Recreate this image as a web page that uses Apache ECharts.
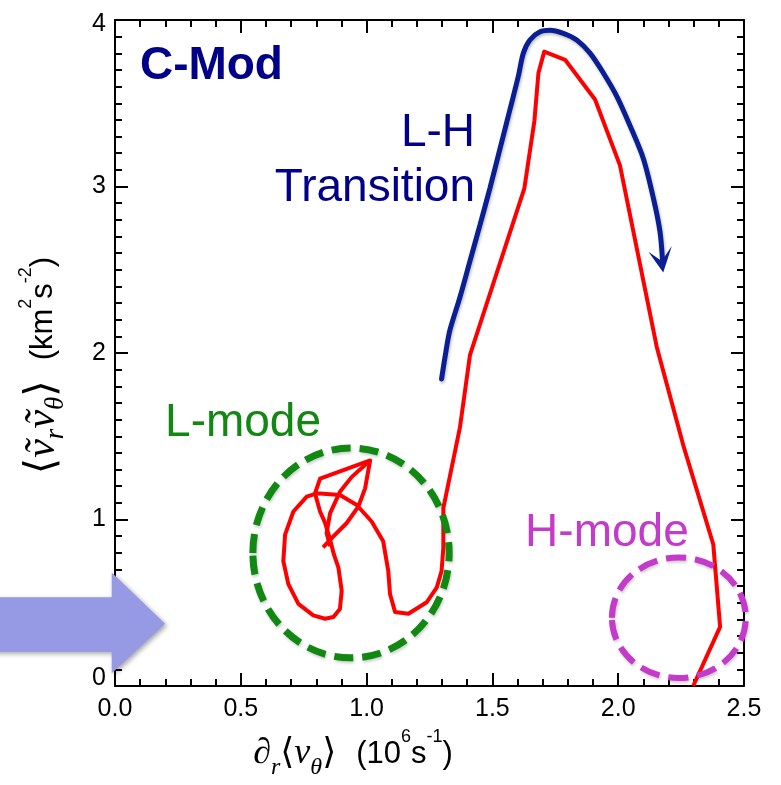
<!DOCTYPE html>
<html>
<head>
<meta charset="utf-8">
<script src="https://cdn.jsdelivr.net/npm/echarts@6/dist/echarts.min.js"></script>
<style>
  html, body { margin: 0; padding: 0; background: #ffffff; }
  #chart { width: 781px; height: 785px; }
</style>
</head>
<body>
<div id="chart"></div>
<script>
// Reynolds stress vs. E×B shear through an L-H transition (C-Mod)

const xTickValues = [0.0, 0.5, 1.0, 1.5, 2.0, 2.5];
const yTickValues = [0, 1, 2, 3, 4];

// L-mode limit cycle, ending where the transition takes off
const lmodeShear = [0.827, 0.868, 0.921, 0.967, 0.994, 1.014, 0.815, 0.795, 0.815, 0.835,
  0.855, 0.870, 0.888, 0.901, 0.894, 0.868, 0.835, 0.788, 0.729, 0.689,
  0.669, 0.676, 0.709, 0.762, 0.802, 0.894, 0.961, 1.020, 1.066, 1.086,
  1.093, 1.113, 1.166, 1.239, 1.279, 1.298, 1.305, 1.305];
const lmodeStress = [0.832, 0.899, 0.979, 1.077, 1.187, 1.355, 1.246, 1.157, 1.048, 0.980,
  0.879, 0.790, 0.711, 0.572, 0.463, 0.414, 0.404, 0.424, 0.493, 0.612,
  0.750, 0.909, 1.048, 1.137, 1.157, 1.147, 1.087, 0.988, 0.869, 0.691,
  0.553, 0.444, 0.434, 0.503, 0.592, 0.691, 0.830, 1.068];

// second stroke inside the limit cycle
const branchShear = [1.014, 0.941, 0.894, 0.855, 0.841, 0.855];
const branchStress = [1.355, 1.256, 1.166, 1.038, 0.919, 0.840];

// transition burst and relaxation into H-mode
const transShear = [1.305, 1.371, 1.411, 1.627, 1.667, 1.683, 1.706, 1.789, 1.908, 2.007,
  2.153, 2.259, 2.378, 2.405, 2.298];
const transStress = [1.068, 1.553, 1.989, 2.989, 3.395, 3.682, 3.810, 3.761, 3.523, 3.127,
  2.038, 1.444, 0.850, 0.355, 0.0];

// guide arrow along the transition
const guideShear = [1.298, 1.312, 1.331, 1.371, 1.411, 1.451, 1.490, 1.530, 1.570, 1.603,
  1.623, 1.649, 1.689, 1.729, 1.782, 1.835, 1.888, 1.941, 1.994, 2.047,
  2.100, 2.140, 2.166, 2.176];
const guideStress = [1.844, 1.979, 2.137, 2.335, 2.553, 2.771, 2.989, 3.226, 3.464, 3.662,
  3.801, 3.880, 3.929, 3.939, 3.920, 3.880, 3.801, 3.682, 3.543, 3.365,
  3.167, 2.929, 2.731, 2.560];

const zip = (a, b) => a.map((v, i) => [v, b[i]]);

const chart = echarts.init(document.getElementById('chart'), null, { renderer: 'canvas' });

const labelFont = '"Liberation Sans Narrow", "Liberation Sans", Arial, sans-serif';
const mathFont = '"Liberation Serif", "DejaVu Serif", serif';
const sansFont = '"Liberation Sans", Arial, Helvetica, sans-serif';

const axisCommon = {
  type: 'value',
  axisLine: { show: true, onZero: false, lineStyle: { color: '#000', width: 2 } },
  axisTick: { show: true, inside: true, length: 13, lineStyle: { color: '#000', width: 2 } },
  minorTick: { show: true, length: 7, lineStyle: { color: '#000', width: 2 } },
  splitLine: { show: false },
  minorSplitLine: { show: false }
};

function nameRich(math, sub) {
  return {
    d: { fontFamily: mathFont, fontSize: math, lineHeight: 52, color: '#000' },
    i: { fontFamily: mathFont, fontStyle: 'italic', fontSize: math, lineHeight: 52, color: '#000' },
    s: { fontFamily: mathFont, fontStyle: 'italic', fontSize: sub, lineHeight: 52, verticalAlign: 'bottom', color: '#000' },
    b: { fontFamily: '"DejaVu Serif", serif', fontSize: math, lineHeight: 52, color: '#000' },
    t: { fontFamily: labelFont, fontSize: 31, lineHeight: 52, color: '#000' },
    g: { fontFamily: labelFont, fontSize: 31, lineHeight: 52, color: '#000', padding: [0, 0, 0, 20] },
    u: { fontFamily: labelFont, fontSize: 18, lineHeight: 52, verticalAlign: 'top', color: '#000' }
  };
}

const option = {
  animation: false,
  backgroundColor: '#ffffff',
  grid: { left: 115, top: 20, right: 37, bottom: 92, containLabel: false },
  xAxis: [
    Object.assign({}, axisCommon, {
      position: 'bottom', min: 0, max: 2.5, interval: 0.5,
      minorTick: Object.assign({}, axisCommon.minorTick, { splitNumber: 5 }),
      axisLabel: {
        show: true, margin: 11, color: '#000', fontSize: 25, fontFamily: labelFont,
        formatter: v => xTickValues.includes(v) ? v.toFixed(1) : ''
      },
      name: '{d|∂}{s|r}{b|⟨}{i|v}{s|θ}{b|⟩}{g|(10}{u|6}{t|s}{u|-1}{t|)}',
      nameLocation: 'middle',
      nameGap: 42,
      nameTextStyle: { rich: nameRich(36, 24), padding: [0, 153, 0, 0] }
    }),
    Object.assign({}, axisCommon, {
      position: 'top', min: 0, max: 2.5, interval: 0.5,
      minorTick: Object.assign({}, axisCommon.minorTick, { splitNumber: 5 }),
      axisLabel: { show: false }
    })
  ],
  yAxis: [
    Object.assign({}, axisCommon, {
      position: 'left', min: 0, max: 4, interval: 1,
      minorTick: Object.assign({}, axisCommon.minorTick, { splitNumber: 10 }),
      axisLabel: {
        show: true, margin: 9, color: '#000', fontSize: 25, fontFamily: labelFont,
        formatter: v => {
          if (!yTickValues.includes(v)) return '';
          if (v === 0) return '{lo|0}';
          if (v === 4) return '{hi|4}';
          return String(v);
        },
        rich: {
          lo: { fontSize: 25, fontFamily: labelFont, color: '#000', padding: [0, 0, 16, 0] },
          hi: { fontSize: 25, fontFamily: labelFont, color: '#000', padding: [8, 0, 0, 0] }
        }
      },
      name: '{b|⟨}{i|v\u0303}{s|r}{i|v\u0303}{s|θ}{b|⟩}{g|(km}{u|2}{t|s}{u|-2}{t|)}',
      nameLocation: 'middle',
      nameRotate: 90,
      nameGap: 46,
      nameTextStyle: { rich: nameRich(42, 27), padding: [0, 25, 0, 0] }
    }),
    Object.assign({}, axisCommon, {
      position: 'right', min: 0, max: 4, interval: 1,
      minorTick: Object.assign({}, axisCommon.minorTick, { splitNumber: 10 }),
      axisLabel: { show: false }
    })
  ],
  series: [
    {
      name: 'limit cycle', type: 'line', xAxisIndex: 0, yAxisIndex: 0,
      data: zip(lmodeShear, lmodeStress).concat(zip(transShear, transStress).slice(1)),
      showSymbol: false, smooth: false, clip: true, z: 3,
      lineStyle: { color: '#ff0000', width: 4, join: 'round' }
    },
    {
      name: 'limit cycle branch', type: 'line', xAxisIndex: 0, yAxisIndex: 0,
      data: zip(branchShear, branchStress),
      showSymbol: false, smooth: false, z: 3,
      lineStyle: { color: '#ff0000', width: 4, join: 'round' }
    },
    {
      name: 'transition guide', type: 'line', xAxisIndex: 0, yAxisIndex: 0,
      data: zip(guideShear, guideStress),
      showSymbol: false, smooth: 0.3, z: 4,
      lineStyle: {
        color: '#0a1f96', width: 5, cap: 'round',
        shadowColor: 'rgba(0,0,0,0.25)', shadowBlur: 3, shadowOffsetX: 1, shadowOffsetY: 2
      }
    }
  ]
};

chart.setOption(option);

// annotations placed in data space, converted through the grid
function toPx(p) { return chart.convertToPixel({ gridIndex: 0 }, p); }

const lmodeRing = { cx: 0.938, cy: 0.799, rx: 0.39, ry: 0.63 };
const hmodeRing = { cx: 2.241, cy: 0.410, rx: 0.266, ry: 0.362 };
const arrowHead = [[2.179, 2.484], [2.120, 2.608], [2.173, 2.553], [2.213, 2.642]];
const bigArrow = [[-0.5, 0.533], [-0.013, 0.533], [-0.013, 0.682], [0.199, 0.374],
  [-0.013, 0.077], [-0.013, 0.206], [-0.5, 0.206]];

function ring(r, color, width, dash) {
  const c = toPx([r.cx, r.cy]);
  const e = toPx([r.cx + r.rx, r.cy + r.ry]);
  return {
    type: 'ellipse', z: 20,
    shape: { cx: c[0], cy: c[1], rx: Math.abs(e[0] - c[0]), ry: Math.abs(c[1] - e[1]) },
    style: {
      fill: null, stroke: color, lineWidth: width, lineDash: dash,
      shadowColor: 'rgba(0,0,0,0.2)', shadowBlur: 3, shadowOffsetX: 1, shadowOffsetY: 2
    }
  };
}

function label(text, at, color, align, weight) {
  const p = toPx(at);
  return {
    type: 'text', z: 20, x: p[0], y: p[1],
    style: {
      text: text, fill: color, align: align, verticalAlign: 'middle',
      fontSize: 46, fontWeight: weight || 'normal', fontFamily: sansFont
    }
  };
}

chart.setOption({
  graphic: [
    ring(lmodeRing, '#118811', 7, [19, 9]),
    ring(hmodeRing, '#c43acb', 6, [20, 9]),
    {
      type: 'polygon', z: 21,
      shape: { points: arrowHead.map(toPx) },
      style: { fill: '#0a1f96' }
    },
    {
      type: 'polygon', z: 30,
      shape: { points: bigArrow.map(toPx) },
      style: {
        fill: '#969ae4',
        shadowColor: 'rgba(0,0,0,0.35)', shadowBlur: 5, shadowOffsetX: 2, shadowOffsetY: 2
      }
    },
    label('C-Mod', [0.099, 3.723], '#000088', 'left', 'bold'),
    label('L-H', [1.431, 3.318], '#000088', 'right'),
    label('Transition', [1.431, 2.989], '#000088', 'right'),
    label('L-mode', [0.199, 1.578], '#118811', 'left'),
    label('H-mode', [1.630, 0.915], '#c43acb', 'left')
  ]
});
</script>
</body>
</html>
